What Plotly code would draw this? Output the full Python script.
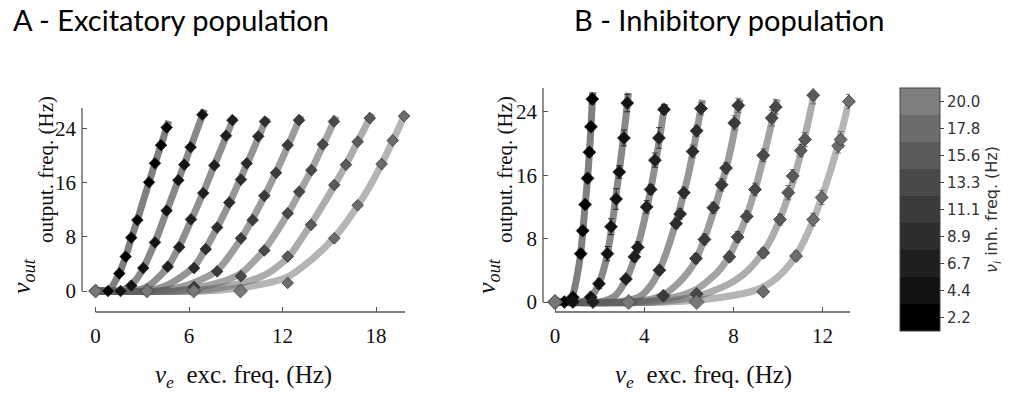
import plotly.graph_objects as go

W, H = 1014, 398

# ---------------- data ----------------
NU_I = [2.2, 4.4, 6.7, 8.9, 11.1, 13.3, 15.6, 17.8, 20.0]     # curve inhibitory freqs
CB_TICKS = [2.2, 4.425, 6.65, 8.875, 11.1, 13.325, 15.55, 17.775, 20.0]
CB_LABELS = ["2.2", "4.4", "6.7", "8.9", "11.1", "13.3", "15.6", "17.8", "20.0"]
LEVEL_COLORS = ["#000000", "#121212", "#1f1f1f", "#2c2c2c", "#3a3a3a",
                "#494949", "#5a5a5a", "#6c6c6c", "#7e7e7e"]

# Panel A - excitatory population: simulated points
A_PTS_X = [
    [0, 0.8, 1.52, 1.93, 2.29, 2.68, 3.43, 3.81, 4.2, 4.56],
    [0, 1.6, 2.29, 3.06, 3.81, 4.56, 5.31, 5.69, 6.1, 6.85],
    [0, 3.3, 4.63, 5.37, 6.12, 6.91, 7.62, 8.37, 8.78],
    [0, 3.3, 6.32, 7.07, 7.8, 8.58, 9.33, 9.7, 10.44, 10.87],
    [0, 3.3, 6.32, 7.8, 9.33, 10.08, 10.83, 11.58, 12.33, 13.06],
    [0, 3.3, 6.3, 9.33, 10.83, 12.33, 13.07, 13.85, 14.58, 15.3],
    [0, 3.3, 6.3, 9.3, 12.33, 13.83, 15.32, 16.07, 16.82, 17.6],
    [0, 3.3, 6.3, 9.3, 12.33, 15.32, 16.82, 18.36, 19.07, 19.8],
    [0, 3.3, 6.3, 9.3],
]
A_PTS_Y = [
    [0, 0, 2.6, 5.1, 7.9, 10.5, 16.1, 18.9, 21.6, 24.2],
    [0, 0, 0.8, 3.4, 7.2, 11.9, 16.4, 18.7, 21.3, 26.1],
    [0, 0, 3.6, 6.5, 10.6, 14.5, 18.6, 23.0, 25.3],
    [0, 0, 3.4, 6.2, 9.4, 13.1, 16.5, 18.9, 22.9, 25.1],
    [0, 0, 0.6, 2.9, 7.8, 10.5, 14.1, 17.5, 21.6, 25.3],
    [0, 0, 0, 2.2, 6.0, 11.5, 14.7, 17.9, 21.7, 25.1],
    [0, 0, 0, 0, 5.1, 9.8, 15.7, 18.7, 22.1, 25.6],
    [0, 0, 0, 0, 1.2, 7.8, 12.7, 18.8, 22.3, 25.9],
    [0, 0, 0, 0],
]
# Panel A: fitted transfer-function curves
A_FIT_X = [
    [0, 0.75, 0.95, 1.2, 1.52, 1.93, 2.29, 2.68, 3.05, 3.43, 3.81, 4.2, 4.56, 4.7],
    [0, 1.4, 1.8, 2.29, 2.7, 3.06, 3.81, 4.56, 5.31, 6.1, 6.85, 6.97],
    [0, 2.4, 3.2, 3.9, 4.63, 5.37, 6.12, 6.91, 7.62, 8.37, 8.78, 8.9],
    [0, 3.2, 4.3, 5.3, 6.32, 7.07, 7.83, 8.58, 9.33, 10.08, 10.87, 11.0],
    [0, 4.0, 5.5, 6.7, 7.83, 8.58, 9.33, 10.08, 10.83, 11.58, 12.33, 13.06, 13.2],
    [0, 5.0, 7.0, 8.4, 9.33, 10.08, 10.83, 11.58, 12.33, 13.07, 13.85, 14.58, 15.3, 15.45],
    [0, 6.0, 8.5, 10.8, 12.33, 13.08, 13.83, 14.58, 15.32, 16.07, 16.82, 17.6, 17.75],
    [0, 7.0, 10.0, 12.33, 13.83, 15.32, 16.07, 16.82, 17.6, 18.36, 19.07, 19.8, 19.9],
]
A_FIT_Y = [
    [0, 0, 0.3, 1.2, 2.6, 5.1, 7.8, 10.5, 13.3, 16.1, 18.9, 21.6, 24.2, 25.2],
    [0, 0, 0.2, 0.9, 2.0, 3.4, 7.2, 11.8, 16.4, 21.3, 26.0, 26.9],
    [0, 0, 0.5, 1.7, 3.6, 6.6, 10.4, 14.6, 18.6, 22.8, 25.2, 25.9],
    [0, 0, 0.6, 1.8, 3.6, 6.3, 9.5, 13.0, 16.8, 20.7, 25.0, 25.7],
    [0, 0, 0.6, 1.6, 3.1, 5.2, 7.7, 10.7, 14.0, 17.6, 21.4, 25.3, 26.0],
    [0, 0, 0.7, 1.6, 2.6, 4.2, 6.1, 8.6, 11.4, 14.5, 17.9, 21.5, 25.1, 25.9],
    [0, 0, 0.7, 2.3, 4.9, 7.3, 9.9, 12.7, 15.6, 18.7, 22.1, 25.6, 26.3],
    [0, 0, 0.7, 2.1, 4.6, 7.9, 10.1, 12.6, 15.5, 18.8, 22.2, 25.9, 26.5],
]

# Panel B - inhibitory population: simulated points (+ error bars)
B_PTS_X = [
    [0, 0.42, 0.8, 1.15, 1.24, 1.35, 1.46, 1.54, 1.61, 1.67],
    [0, 0.8, 1.6, 1.97, 2.35, 2.51, 2.74, 2.88, 3.09, 3.24],
    [0, 1.7, 3.18, 3.56, 3.71, 4.11, 4.29, 4.48, 4.66, 4.89],
    [0, 3.3, 4.68, 5.43, 5.61, 5.78, 6.17, 6.35, 6.55],
    [0, 3.3, 4.86, 6.32, 6.70, 7.10, 7.47, 7.67, 8.04, 8.22],
    [0, 3.3, 6.35, 7.82, 8.19, 8.60, 8.97, 9.34, 9.72, 9.90],
    [0, 3.3, 6.35, 9.34, 10.09, 10.46, 10.66, 11.02, 11.21, 11.58],
    [0, 3.3, 6.35, 9.34, 10.81, 11.58, 11.96, 12.70, 12.81, 13.18],
    [0, 3.3, 6.35],
]
B_PTS_Y = [
    [0, 0, 0.6, 6.1, 9.0, 12.3, 15.6, 18.9, 22.1, 25.6],
    [0, 0, 0.6, 2.3, 6.1, 9.5, 13.0, 16.4, 20.7, 25.1],
    [0, 0, 2.9, 5.7, 6.9, 12.0, 14.2, 17.9, 20.7, 24.3],
    [0, 0, 4.0, 9.9, 11.1, 13.8, 19.0, 21.6, 24.4],
    [0, 0, 0.8, 5.5, 7.9, 11.9, 14.8, 16.9, 22.6, 24.8],
    [0, 0, 1.0, 5.7, 8.2, 10.8, 14.2, 18.5, 23.2, 24.6],
    [0, 0, 0, 6.2, 10.4, 13.8, 15.9, 19.1, 20.5, 26.1],
    [0, 0, 0, 1.3, 5.8, 10.4, 13.2, 19.7, 20.5, 25.3],
    [0, 0, 0],
]
B_PTS_ERR = [
    [0, 0, 0.2, 0.5, 0.5, 0.5, 0.5, 0.5, 0.5, 0.6],
    [0, 0, 0.3, 0.6, 0.9, 1.0, 1.3, 0.8, 1.0, 1.1],
    [0, 0, 0.4, 0.6, 0.7, 0.8, 0.6, 0.9, 1.3, 0.6],
    [0, 0, 0.5, 0.6, 0.7, 0.7, 0.8, 0.7, 0.8],
    [0, 0, 0.3, 0.6, 0.7, 0.7, 0.8, 0.7, 0.9, 0.9],
    [0, 0, 0.3, 0.6, 0.7, 0.7, 0.8, 0.8, 1.0, 0.9],
    [0, 0, 0, 0.6, 0.7, 0.9, 0.8, 0.8, 0.9, 1.1],
    [0, 0, 0, 0.3, 0.6, 0.8, 0.9, 0.9, 1.0, 0.9],
    [0, 0, 0],
]
B_FIT_X = [
    [0, 0.55, 0.72, 0.85, 0.97, 1.07, 1.15, 1.24, 1.35, 1.46, 1.54, 1.61, 1.67, 1.70],
    [0, 1.2, 1.6, 1.97, 2.2, 2.36, 2.51, 2.66, 2.80, 2.94, 3.07, 3.18, 3.26, 3.29],
    [0, 2.0, 2.7, 3.18, 3.5, 3.75, 3.97, 4.17, 4.35, 4.52, 4.68, 4.83, 4.92],
    [0, 2.8, 3.8, 4.3, 4.68, 5.0, 5.3, 5.55, 5.8, 6.02, 6.2, 6.38, 6.57, 6.62],
    [0, 3.5, 4.8, 5.5, 6.0, 6.32, 6.70, 7.10, 7.47, 7.80, 8.04, 8.22, 8.30],
    [0, 4.0, 5.5, 6.35, 7.0, 7.45, 7.82, 8.19, 8.60, 8.97, 9.34, 9.65, 9.90, 9.97],
    [0, 4.5, 6.5, 8.0, 8.7, 9.34, 9.75, 10.09, 10.46, 10.80, 11.10, 11.40, 11.62],
    [0, 5.0, 7.5, 9.0, 9.7, 10.3, 10.81, 11.2, 11.58, 11.96, 12.35, 12.70, 12.95, 13.18],
]
B_FIT_Y = [
    [0, 0, 0.3, 1.4, 3.0, 4.6, 6.1, 8.7, 12.2, 15.6, 18.8, 22.0, 25.3, 26.5],
    [0, 0, 0.6, 2.3, 4.3, 6.2, 8.8, 11.8, 14.8, 17.8, 20.8, 23.4, 25.6, 26.4],
    [0, 0, 0.8, 2.8, 5.0, 7.4, 9.9, 12.5, 15.1, 17.8, 20.5, 23.2, 25.0],
    [0, 0, 0.7, 2.1, 4.0, 6.3, 8.9, 11.3, 14.0, 16.6, 19.1, 21.9, 24.8, 25.5],
    [0, 0, 0.8, 2.3, 3.9, 5.3, 8.0, 11.3, 14.8, 18.3, 21.5, 24.5, 25.6],
    [0, 0, 0.7, 1.6, 3.0, 4.3, 5.8, 8.0, 10.9, 14.2, 18.1, 21.8, 24.8, 25.6],
    [0, 0, 0.8, 2.6, 4.1, 6.3, 8.3, 10.5, 13.4, 16.4, 19.6, 23.3, 26.3],
    [0, 0, 0.6, 1.5, 2.5, 4.0, 5.9, 7.9, 10.3, 13.2, 16.5, 19.9, 22.6, 25.3],
]

A_XTICKS = [0, 6, 12, 18]
A_YTICKS = [0, 8, 16, 24]
B_XTICKS = [0, 4, 8, 12]
B_YTICKS = [0, 8, 16, 24]

# ---------------- helpers ----------------
def px_x(p):
    return p / W

def px_y(p):
    return 1 - p / H

step = (CB_TICKS[-1] - CB_TICKS[0]) / (len(CB_TICKS) - 1)
CMIN = CB_TICKS[0] - step / 2
CMAX = CB_TICKS[-1] + step / 2
n_lv = len(LEVEL_COLORS)
colorscale = []
for i, c in enumerate(LEVEL_COLORS):
    colorscale.append([i / n_lv, c])
    colorscale.append([(i + 1) / n_lv, c])

def level_color(v):
    idx = int((v - CMIN) / (CMAX - CMIN) * n_lv)
    idx = max(0, min(n_lv - 1, idx))
    return LEVEL_COLORS[idx]

def rgba(hexc, a):
    h = hexc.lstrip("#")
    r, g, b = int(h[0:2], 16), int(h[2:4], 16), int(h[4:6], 16)
    return f"rgba({r},{g},{b},{a})"

SERIF = "Liberation Serif"
fig = go.Figure()

panels = [
    ("x", "y", A_FIT_X, A_FIT_Y, A_PTS_X, A_PTS_Y, None, 9),
    ("x2", "y2", B_FIT_X, B_FIT_Y, B_PTS_X, B_PTS_Y, B_PTS_ERR, 10),
]
for xa, ya, fx, fy, mx, my, err, msize in panels:
    for k in range(len(fx)):
        col = level_color(NU_I[k])
        fig.add_trace(go.Scatter(
            x=fx[k], y=fy[k], xaxis=xa, yaxis=ya, mode="lines",
            line=dict(color=rgba(col, 0.5), width=7, shape="spline", smoothing=0.8),
            showlegend=False, hoverinfo="skip", cliponaxis=False))
    for k in range(len(mx)):
        col = level_color(NU_I[k])
        last = (k == len(mx) - 1)
        tr = dict(
            x=mx[k], y=my[k], xaxis=xa, yaxis=ya, mode="markers",
            marker=dict(symbol="diamond", size=msize + (2 if last else 0),
                        opacity=0.7 if last else 1.0,
                        color=[NU_I[k]] * len(mx[k]), coloraxis="coloraxis",
                        line=dict(width=0.8, color="rgba(40,40,40,0.85)")),
            showlegend=False, cliponaxis=False)
        if err is not None:
            tr["error_y"] = dict(type="data", array=err[k], visible=True,
                                 color=rgba(col, 0.8) if k < 3 else "rgba(90,90,90,0.8)",
                                 thickness=1, width=3)
        fig.add_trace(go.Scatter(**tr))

# ---------------- axes ----------------
A_L, A_R, A_T, A_B = 82, 405, 108, 312
B_L, B_R, B_T, B_B = 543, 850, 88, 312
A_XR = [-0.873, 19.86]
A_YR = [-3.11, 27.1]
B_XR = [-0.54, 13.23]
B_YR = [-1.26, 27.0]

common = dict(showgrid=False, zeroline=False, showline=False, ticks="inside",
              ticklen=5, tickwidth=1, tickcolor="#555",
              tickfont=dict(family=SERIF, size=21, color="#111"))

fig.update_layout(
    xaxis=dict(domain=[px_x(A_L), px_x(A_R)], range=A_XR, tickvals=A_XTICKS,
               anchor="y", ticklabelstandoff=9, **common),
    yaxis=dict(domain=[px_y(A_B), px_y(A_T)], range=A_YR, tickvals=A_YTICKS,
               anchor="x", ticklabelstandoff=5, **common),
    xaxis2=dict(domain=[px_x(B_L), px_x(B_R)], range=B_XR, tickvals=B_XTICKS,
                anchor="y2", ticklabelstandoff=9, **common),
    yaxis2=dict(domain=[px_y(B_B), px_y(B_T)], range=B_YR, tickvals=B_YTICKS,
                anchor="x2", ticklabelstandoff=5, **common),
)

# offset spines
spine = dict(color="#555", width=1.3)
shapes = [
    dict(type="line", xref="x", yref="y domain", x0=0, x1=A_XR[1], y0=0, y1=0, line=spine),
    dict(type="line", xref="x domain", yref="y", x0=0, x1=0, y0=0, y1=A_YR[1], line=spine),
    dict(type="line", xref="x2", yref="y2 domain", x0=0, x1=B_XR[1], y0=0, y1=0, line=spine),
    dict(type="line", xref="x2 domain", yref="y2", x0=0, x1=0, y0=0, y1=B_YR[1], line=spine),
]

ann = []
P = dict(xref="paper", yref="paper", showarrow=False)
TITLE_FONT = dict(family="Lato", size=29, color="#000")
ann.append(dict(text="A - Excitatory population", x=px_x(11), y=px_y(0),
                xanchor="left", yanchor="top", font=TITLE_FONT, **P))
ann.append(dict(text="B - Inhibitory population", x=px_x(572), y=px_y(0),
                xanchor="left", yanchor="top", font=TITLE_FONT, **P))

XLBL = dict(family=SERIF, size=25, color="#111")
YLBL = dict(family=SERIF, size=21, color="#111")
NU = dict(family=SERIF, size=26, color="#111")
# x titles
for cx in (243, 703):
    ann.append(dict(text="<i>ν<sub>e</sub></i>  exc. freq. (Hz)", x=px_x(cx), y=px_y(376),
                    xanchor="center", yanchor="middle", font=XLBL, **P))
# y titles
for cx_main, cx_nu in ((46, 23), (505, 488)):
    ann.append(dict(text="output. freq. (Hz)", x=px_x(cx_main), y=px_y(170),
                    xanchor="center", yanchor="middle", textangle=-90, font=YLBL, **P))
    ann.append(dict(text="<i>ν<sub>out</sub></i>", x=px_x(cx_nu), y=px_y(276),
                    xanchor="center", yanchor="middle", textangle=-90, font=NU, **P))

fig.update_layout(
    width=W, height=H, margin=dict(l=0, r=0, t=0, b=0, autoexpand=False),
    paper_bgcolor="white", plot_bgcolor="white",
    shapes=shapes, annotations=ann,
    coloraxis=dict(
        colorscale=colorscale, cmin=CMIN, cmax=CMAX,
        colorbar=dict(
            x=px_x(900), xanchor="left", y=px_y(209.5), yanchor="middle",
            len=243, lenmode="pixels", thickness=40, thicknessmode="pixels",
            xpad=0, ypad=0,
            outlinewidth=1, outlinecolor="#444",
            tickvals=CB_TICKS, ticktext=CB_LABELS, ticks="outside", ticklen=4,
            tickcolor="#444", tickfont=dict(family="DejaVu Sans", size=15, color="#333"),
            title=dict(text="<i>ν<sub>i</sub></i> inh. freq. (Hz)", side="right",
                       font=dict(family="DejaVu Sans", size=16, color="#333")),
        ),
    ),
)

fig.write_html("out.html")
